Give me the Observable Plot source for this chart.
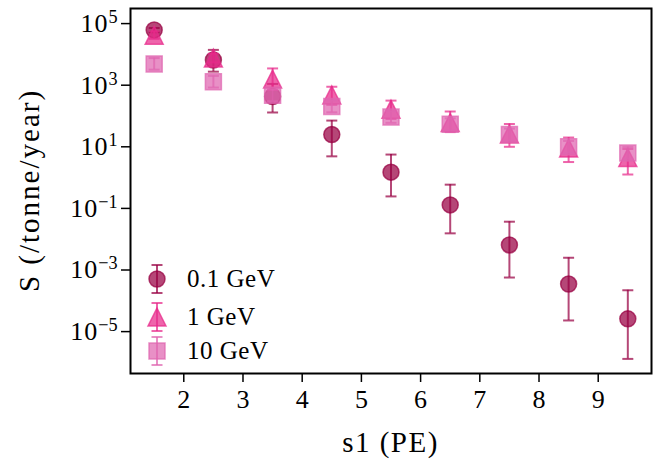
<!DOCTYPE html>
<html><head><meta charset="utf-8">
<script src="https://cdn.jsdelivr.net/npm/d3@7"></script>
<script src="https://cdn.jsdelivr.net/npm/@observablehq/plot@0.6"></script>
<style>
html,body{margin:0;padding:0;background:#fff;}
#chart svg{display:block;}
</style></head><body><div id="chart"></div>
<script>
// ---- data ----
const s1 = [1.5, 2.5, 3.5, 4.5, 5.5, 6.5, 7.5, 8.5, 9.5];

const S_01  = [62000, 6600, 430, 25, 1.5, 0.13, 0.0065, 3.5e-4, 2.6e-5];
const lo_01 = [52000, 2750, 130, 4.9, 0.245, 0.0155, 5.7e-4, 2.3e-5, 1.3e-6];
const hi_01 = [72000, 14000, 1100, 71, 5.6, 0.59, 0.037, 2.5e-3, 2.2e-4];

const S_1   = [42000, 7600, 1580, 480, 165, 61, 26, 9.1, 4.5];
const lo_1  = [32000, 5500, 700, 230, 80, 30, 10, 3.2, 1.26];
const hi_1  = [56000, 10500, 3500, 890, 316, 140, 55, 20, 8.5];

const S_10  = [4900, 1300, 470, 205, 92, 54, 25, 10, 6.3];
const lo_10 = [3200, 840, 300, 132, 60, 35, 16, 6.5, 4.1];
const hi_10 = [7600, 2000, 730, 318, 143, 84, 39, 15.5, 9.8];

const seriesNames = ["0.1 GeV", "1 GeV", "10 GeV"];
const colors = ["#980043", "#e7298a", "#df65b0"];
const xTicks = [2, 3, 4, 5, 6, 7, 8, 9];
const yTicks = [1e5, 1e3, 1e1, 1e-1, 1e-3, 1e-5];
const xLabel = "s1 (PE)";
const yLabel = "S (/tonne/year)";

// ---- build ----
function rows(S, lo, hi) { return s1.map((x, i) => ({x, y: S[i], lo: lo[i], hi: hi[i]})); }
const series = [rows(S_01, lo_01, hi_01), rows(S_1, lo_1, hi_1), rows(S_10, lo_10, hi_10)];

const circleSym = {draw(c) { c.moveTo(8, 0); c.arc(0, 0, 8, 0, 2 * Math.PI); c.closePath(); }};
const triSym = {draw(c) { c.moveTo(0, -9); c.lineTo(9, 9); c.lineTo(-9, 9); c.closePath(); }};
const squareSym = {draw(c) { c.rect(-8, -8, 16, 16); }};
const capSym = {draw(c) { c.moveTo(-5.5, 0); c.lineTo(5.5, 0); }};
const symbols = [circleSym, triSym, squareSym];
const OP = 0.72;
const FONT = "Liberation Serif";

const marks = [];
series.forEach((d, k) => {
  marks.push(Plot.ruleX(d, {x: "x", y1: "lo", y2: "hi", stroke: colors[k], strokeWidth: 2, strokeOpacity: OP}));
  marks.push(Plot.dot(d, {x: "x", y: "lo", symbol: capSym, fill: "none", stroke: colors[k], strokeWidth: 2, strokeOpacity: OP}));
  marks.push(Plot.dot(d, {x: "x", y: "hi", symbol: capSym, fill: "none", stroke: colors[k], strokeWidth: 2, strokeOpacity: OP}));
  marks.push(Plot.dot(d, {x: "x", y: "y", symbol: symbols[k], fill: colors[k], fillOpacity: OP, stroke: colors[k], strokeOpacity: OP, strokeWidth: 1.5}));
});

const chart = Plot.plot({
  width: 672, height: 460,
  marginLeft: 130, marginRight: 21, marginTop: 8, marginBottom: 87,
  style: {fontFamily: FONT, background: "#fff", color: "black"},
  x: {type: "linear", domain: [1.1, 9.9]},
  y: {type: "log", domain: [10 ** -6.36, 10 ** 5.49]},
  marks: [
    ...marks,
    Plot.frame({stroke: "black", strokeWidth: 2}),
    Plot.axisX({ticks: xTicks, tickSize: 9, tickPadding: 7, tickFormat: d => String(d), label: null, fontSize: 26, strokeWidth: 1.5}),
    Plot.axisY({ticks: yTicks, tickSize: 9, tickPadding: 4, tickFormat: d => "10^" + Math.round(Math.log10(d)), label: null, fontSize: 26, strokeWidth: 1.5})
  ]
});
document.getElementById("chart").appendChild(chart);

const svg = d3.select(chart);

// superscripts on y tick labels
svg.selectAll('g[aria-label="y-axis tick label"] text').each(function () {
  const t = d3.select(this);
  const s = t.text();
  const parts = s.split("^");
  if (parts.length !== 2) return;
  t.text(null);
  t.append("tspan").attr("letter-spacing", "1px").text(parts[0]);
  t.append("tspan").attr("dy", "-9").attr("font-size", "0.7em").text(parts[1].replace("-", "\u2212"));
});

// axis labels
svg.append("text").attr("x", 390.5).attr("y", 452).attr("text-anchor", "middle")
  .attr("font-size", 29).attr("letter-spacing", "1.5px").attr("fill", "black").text(xLabel);
svg.append("text").attr("transform", "translate(39,190.5) rotate(-90)").attr("text-anchor", "middle")
  .attr("font-size", 29).attr("letter-spacing", "2px").attr("fill", "black").text(yLabel);

// legend
const lg = svg.append("g").attr("aria-label", "legend");
const legY = [279, 317, 351];
seriesNames.forEach((name, k) => {
  const cx = 157, cy = legY[k];
  const g = lg.append("g");
  g.append("line").attr("x1", cx).attr("x2", cx).attr("y1", cy - 14).attr("y2", cy + 14)
    .attr("stroke", colors[k]).attr("stroke-width", 2).attr("stroke-opacity", OP);
  [cy - 14, cy + 14].forEach(yy => g.append("path").attr("transform", `translate(${cx},${yy})`)
    .attr("d", d3.symbol().type(capSym)()).attr("fill", "none").attr("stroke", colors[k])
    .attr("stroke-width", 2).attr("stroke-opacity", OP));
  g.append("path").attr("transform", `translate(${cx},${cy})`).attr("d", d3.symbol().type(symbols[k])())
    .attr("fill", colors[k]).attr("fill-opacity", OP).attr("stroke", colors[k]).attr("stroke-opacity", OP).attr("stroke-width", 1.5);
  g.append("text").attr("x", 187).attr("y", cy).attr("dy", "0.33em").attr("font-size", 25)
    .attr("letter-spacing", "0.5px").attr("text-anchor", "start").attr("fill", "black").text(name);
});
</script></body></html>
